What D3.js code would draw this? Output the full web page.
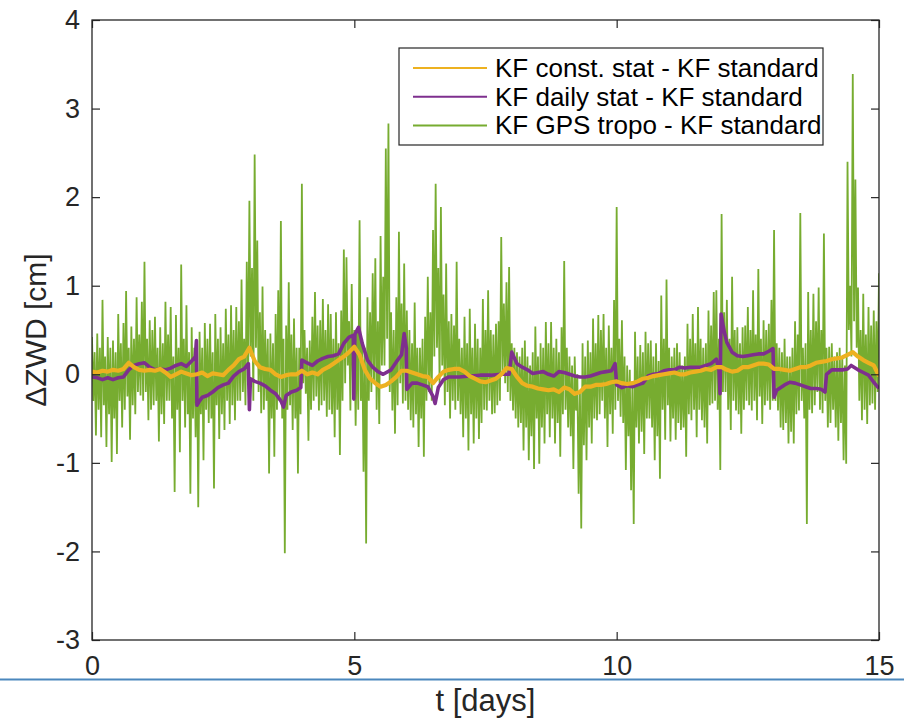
<!DOCTYPE html>
<html>
<head>
<meta charset="utf-8">
<script src="https://cdn.jsdelivr.net/npm/d3@7"></script>
<style>
  html, body { margin: 0; padding: 0; background: #ffffff; }
  svg { display: block; }
  text { font-family: "Liberation Sans", Arial, Helvetica, sans-serif; }
</style>
</head>
<body>
<svg id="chart" width="904" height="719"></svg>
<script>
// ---- data: ZWD differences [cm] against the standard Kalman filter ----
const xTicks = [0, 5, 10, 15];
const yTicks = [-3, -2, -1, 0, 1, 2, 3, 4];
const seriesNames = [
  "KF const. stat - KF standard",
  "KF daily stat - KF standard",
  "KF GPS tropo - KF standard"
];
const seriesColors = ["#EDB120", "#7E2F8E", "#77AC30"];

// GPS tropo difference, one value every 0.025 day (t = 0 ... 15), two rows per day
const greenStep = 0.025;
const greenValues = [
  0.42,-0.3, 0.25,-0.69, 0.46,-0.4, 0.3,-0.71, 0.84,-0.35, 0.2,-0.82, 0.42,-0.45, 0.3,-0.99, 0.38,-0.5, 0.25,-0.9,
  0.68,-0.3, 0.35,-0.6, 0.58,-0.4, 0.94,-0.25, 0.3,-0.74, 0.54,-0.35, 0.4,-0.45, 0.87,-0.2, 0.45,-0.24, 0.82,-0.3,
  1.27,-0.2, 0.4,-0.52, 0.61,-0.4, 0.5,-0.35, 0.65,-0.3, 0.3,-0.76, 0.53,-0.45, 0.35,-0.56, 0.82,-0.3, 0.45,-0.3,
  0.76,-0.5, 0.2,-1.33, 0.67,-0.4, 0.3,-0.88, 1.24,-0.3, 0.4,-0.6, 0.78,-0.45, 0.25,-1.35, 0.53,-0.5, 0.3,-0.71,
  0.35,-1.5, 0.48,-0.45, 0.3,-0.97, 0.58,-0.4, 0.4,-0.55, 0.57,-0.5, 0.25,-1.29, 0.68,-0.35, 0.4,-0.73, 0.53,-0.45,
  0.35,-0.63, 0.74,-0.3, 0.45,-0.56, 0.78,-0.35, 0.5,-0.52, 0.76,-0.3, 0.6,-0.3, 1.07,-0.2, 0.4,-0.35, 1.27,-0.1,
  1.96,0.2, 1.2,-0.3, 2.48,0.3, 1.51,-0.2, 0.7,-0.44, 0.99,-0.4, 0.5,-0.3, 0.4,-1.12, 0.46,-0.5, 0.35,-0.93,
  0.68,-0.4, 0.95,-0.3, 1.73,-0.5, 0.4,-2.02, 0.55,-0.4, 1.04,-0.35, 0.45,-0.63, 0.63,-0.5, 0.3,-1.12, 0.3,-0.45,
  2.15,-0.1, 0.5,-0.22, 0.3,-0.75, 0.38,-0.4, 0.65,-0.3, 0.93,-0.25, 0.55,-0.41, 0.61,-0.35, 0.85,-0.3, 0.5,-0.48,
  0.79,-0.4, 0.68,-0.45, 0.4,-0.71, 0.7,-0.4, 0.35,-0.91, 0.72,-0.3, 1.41,-0.1, 1.32,0.1, 0.6,-0.41, 1.02,-0.2,
  0.5,-0.58, 0.5,-0.4, 1.74,-0.3, 0.4,-1.1, 0.3,-1.91, 0.87,-0.3, 0.7,-0.2, 1.14,-0.1, 1.31,-0.4, 0.6,-0.56,
  1.56,0.1, 1.1,0.1, 2.55,0.4, 2.83,-0.2, 0.7,-0.41, 0.5,-0.67, 0.87,-0.35, 1.61,-0.1, 0.8,-0.33, 1.25,-0.3,
  0.72,-0.4, 0.5,-0.52, 0.35,-0.6, 0.81,-0.45, 0.3,-0.82, 0.3,-0.5, 0.4,-0.93, 0.65,-0.3, 1.1,-0.2, 0.7,-0.3,
  1.63,0.2, 2.15,0.3, 1.2,-0.1, 1.89,0.1, 0.9,-0.35, 1.25,-0.2, 0.6,-0.5, 0.68,-0.3, 0.55,-0.4, 1.27,-0.3,
  0.4,-0.45, 0.3,-0.71, 0.65,-0.5, 0.35,-0.86, 0.74,-0.45, 0.3,-0.78, 0.57,-0.5, 0.4,-0.73, 0.3,-0.55, 0.85,-0.4,
  0.5,-0.41, 0.95,-0.3, 0.5,-0.45, 0.45,-0.44, 0.57,-0.35, 0.6,-0.3, 1.55,0.0, 0.8,-0.1, 1.04,-0.2, 1.21,-0.3,
  0.35,-0.41, 0.3,-0.5, 0.25,-0.6, 0.2,-0.55, 0.3,-0.86, 0.38,-0.6, 0.2,-0.97, 0.1,-0.7, 0.25,-1.07, 0.54,-0.5,
  0.2,-1.01, 0.35,-0.6, 0.3,-0.78, 0.59,-0.45, 0.35,-0.71, 0.59,-0.5, 0.3,-0.78, 0.4,-0.55, 0.25,-0.93, 0.53,-0.45,
  1.28,-0.4, 0.3,-0.6, 0.2,-0.7, 0.1,-1.07, 0.2,-0.41, 0.0,-1.35, -0.2,-1.74, 0.35,-0.8, 0.2,-0.97, 0.38,-0.6,
  0.25,-0.78, 0.63,-0.5, 0.35,-0.52, 0.67,-0.45, 0.5,-0.3, 0.68,-0.5, 0.3,-0.82, 0.55,-0.45, 0.3,-0.67, 0.84,-0.4,
  1.89,-0.3, 0.4,-0.48, 0.61,-0.55, 0.2,-1.08, 0.1,-0.7, 0.05,-1.31, -0.1,-1.69, 0.48,-0.6, 0.2,-0.78, 0.33,-0.65,
  0.25,-0.9, 0.48,-0.5, 0.35,-0.5, 0.38,-0.6, 0.2,-0.97, 0.35,-0.7, 0.15,-1.18, 0.89,-0.4, 0.4,-0.74, 1.07,-0.35,
  0.3,-0.76, 0.2,-0.5, 0.3,-0.74, 0.35,-0.55, 0.25,-0.63, 0.1,-0.6, 0.2,-0.93, 0.57,-0.45, 0.4,-0.52, 0.68,-0.4,
  0.35,-0.71, 0.76,-0.4, 0.4,-0.52, 0.3,-0.6, 0.35,-0.78, 0.72,-0.35, 0.55,-0.33, 0.93,-0.3, 0.95,-0.4, 0.4,-1.08,
  1.81,-0.2, 0.7,-0.2, 0.84,-0.4, 0.4,-0.63, 1.1,-0.3, 0.5,-0.41, 0.53,-0.45, 0.35,-0.67, 0.53,-0.4, 0.55,-0.3,
  0.76,-0.35, 0.5,-0.41, 0.95,-0.3, 0.45,-0.52, 1.19,-0.25, 0.4,-0.56, 0.61,-0.35, 0.5,-0.3, 0.57,-0.4, 0.84,-0.3,
  1.63,-0.3, 0.35,-0.41, 0.3,-0.6, 0.25,-0.63, 0.4,-0.55, 0.2,-0.78, 0.2,-0.65, 0.3,-0.78, 0.6,-0.45, 0.45,-0.41,
  1.82,-0.3, 0.3,-0.5, 0.35,-1.69, 0.93,-0.4, 0.5,-0.44, 0.91,-0.35, 0.6,-0.2, 0.98,-0.4, 0.5,-0.44, 1.59,-0.3,
  0.3,-0.6, 0.31,-0.55, 0.35,-0.4, 0.2,-0.6, 0.25,-0.75, 0.3,-0.55, 0.2,-0.97, 0.1,-1.01, 2.4,0.5, 1.0,0.2,
  3.39,0.6, 2.2,0.3, 0.98,-0.3, 0.5,-0.52, 0.91,-0.4, 0.45,-0.56, 0.76,-0.35, 0.55,-0.33, 0.72,-0.4, 0.6,-0.2,
  1.14
];

// constant-statistics difference, one value every 0.1 day
const orangeStep = 0.1;
const orangeValues = [
  0.03, 0.02, 0.04, 0.03, 0.05, 0.04, 0.06, 0.13, 0.08, 0.05,
  0.04, 0.05, 0.04, 0.06, 0.02, -0.03, 0.0, 0.03, 0.01, -0.01,
  0.0, 0.02, -0.02, 0.01, 0.0, -0.01, 0.05, 0.1, 0.17, 0.2,
  0.3, 0.15, 0.08, 0.06, 0.05, 0.0, -0.03, -0.01, 0.0, 0.0,
  0.04, 0.0, 0.02, 0.0, 0.05, 0.08, 0.12, 0.16, 0.2, 0.25,
  0.31, 0.22, 0.05, -0.05, -0.1, -0.14, -0.12, -0.08, -0.03, 0.04,
  0.04, 0.02, 0.0, -0.02, -0.03, -0.1, -0.03, 0.03, 0.05, 0.06,
  0.06, 0.03, -0.02, -0.05, -0.08, -0.09, -0.07, -0.05, 0.0, 0.07,
  0.06, -0.03, -0.1, -0.13, -0.14, -0.16, -0.17, -0.18, -0.17, -0.2,
  -0.15, -0.17, -0.22, -0.2, -0.14, -0.14, -0.12, -0.12, -0.11, -0.09,
  -0.08, -0.1, -0.11, -0.1, -0.08, -0.05, -0.04, -0.02, -0.01, 0.0,
  0.01, 0.02, 0.0, 0.0, 0.02, 0.03, 0.04, 0.06, 0.05, 0.08,
  0.08, 0.05, 0.03, 0.04, 0.08, 0.08, 0.1, 0.12, 0.12, 0.11,
  0.06, 0.06, 0.05, 0.04, 0.06, 0.08, 0.08, 0.1, 0.13, 0.14,
  0.15, 0.17, 0.18, 0.19, 0.22, 0.25, 0.2, 0.16, 0.13, 0.1,
  -0.02
];

// daily-statistics difference: irregular epochs (resets at day boundaries)
const purpleDays = [
  0.0, 0.1, 0.2, 0.3, 0.4, 0.5, 0.6, 0.7, 0.8, 0.9,
  1.0, 1.1, 1.2, 1.3, 1.4, 1.5, 1.6, 1.7, 1.8, 1.9, 1.97, 1.99,
  2.0, 2.05, 2.1, 2.2, 2.3, 2.4, 2.5, 2.6, 2.7, 2.8, 2.9, 2.98,
  3.0, 3.02, 3.1, 3.2, 3.3, 3.4, 3.5, 3.6, 3.65, 3.7, 3.8, 3.9, 3.98,
  4.0, 4.1, 4.2, 4.3, 4.4, 4.5, 4.6, 4.7, 4.8, 4.9, 4.98, 4.99,
  5.01, 5.08, 5.15, 5.25, 5.35, 5.45, 5.55, 5.7, 5.8, 5.9, 5.95, 5.99,
  6.0, 6.1, 6.2, 6.3, 6.4, 6.5, 6.54, 6.6, 6.7, 6.8, 6.9,
  7.0, 7.2, 7.4, 7.6, 7.8, 7.95,
  8.0, 8.1, 8.2, 8.3, 8.4, 8.5, 8.6, 8.7, 8.8, 8.9,
  9.0, 9.1, 9.2, 9.3, 9.4, 9.5, 9.6, 9.7, 9.8, 9.9, 9.97,
  10.0, 10.1, 10.2, 10.3, 10.4, 10.5, 10.6, 10.7, 10.8, 10.9,
  11.0, 11.1, 11.2, 11.3, 11.4, 11.5, 11.6, 11.7, 11.8, 11.9, 11.95, 11.97,
  11.99, 12.05, 12.1, 12.2, 12.3, 12.4, 12.5, 12.6, 12.7, 12.8, 12.9, 12.98,
  13.0, 13.05, 13.2, 13.3, 13.4, 13.5, 13.6, 13.7, 13.8, 13.9, 13.97,
  14.0, 14.1, 14.2, 14.3, 14.4, 14.47, 14.6, 14.7, 14.8, 14.9, 15.0
];
const purpleValues = [
  -0.03, -0.04, -0.06, -0.04, -0.06, -0.04, -0.03, 0.05, 0.1, 0.12,
  0.13, 0.08, 0.05, 0.06, 0.05, 0.07, 0.1, 0.12, 0.09, 0.15, 0.2, 0.38,
  -0.35, -0.3, -0.26, -0.24, -0.2, -0.15, -0.12, -0.1, -0.02, 0.03, 0.06, 0.12,
  -0.4, -0.05, -0.08, -0.1, -0.13, -0.18, -0.22, -0.3, -0.37, -0.24, -0.2, -0.18, -0.15,
  0.16, 0.13, 0.1, 0.15, 0.18, 0.2, 0.21, 0.23, 0.35, 0.42, 0.44, -0.28,
  0.45, 0.53, 0.35, 0.16, 0.08, 0.03, 0.0, 0.05, 0.14, 0.22, 0.46, 0.3,
  -0.17, -0.1, -0.1, -0.12, -0.14, -0.25, -0.33, -0.15, -0.06, -0.03, -0.03,
  -0.03, -0.02, -0.01, -0.01, 0.0, 0.0,
  0.25, 0.12, 0.08, 0.05, 0.01, 0.02, 0.03, 0.0, -0.02, 0.03,
  0.02, 0.0, -0.02, -0.03, -0.03, -0.02, 0.0, 0.02, 0.03, 0.04, 0.12,
  -0.12, -0.15, -0.13, -0.14, -0.12, -0.1, -0.02, 0.0, 0.01, 0.04,
  0.05, 0.05, 0.08, 0.07, 0.08, 0.08, 0.08, 0.1, 0.12, 0.17, 0.05, -0.22,
  0.68, 0.48, 0.36, 0.25, 0.21, 0.2, 0.21, 0.22, 0.23, 0.23, 0.26, 0.29,
  -0.26, -0.18, -0.12, -0.09, -0.1, -0.12, -0.14, -0.16, -0.16, -0.17, -0.2,
  0.0, 0.05, 0.05, 0.05, 0.06, 0.1, 0.05, 0.02, -0.01, -0.09, -0.16
];

// ---- layout ----
const svg = d3.select("#chart");
const W = 904, H = 719;
const plot = { left: 92, right: 879, top: 20, bottom: 640 };
const axisColor = "#262626";
const font = '"Liberation Sans", Arial, Helvetica, sans-serif';
const tickFmt = d => String(d); // plain hyphen-minus for negatives

const x = d3.scaleLinear().domain([0, 15]).range([plot.left, plot.right]);
const y = d3.scaleLinear().domain([-3, 4]).range([plot.bottom, plot.top]);

svg.append("rect").attr("width", W).attr("height", H).attr("fill", "#ffffff");

// clip for the data lines
svg.append("defs").append("clipPath").attr("id", "plotClip")
  .append("rect")
  .attr("x", plot.left).attr("y", plot.top)
  .attr("width", plot.right - plot.left).attr("height", plot.bottom - plot.top);

const line = d3.line().x(d => x(d[0])).y(d => y(d[1]));

const greenData = greenValues.map((v, i) => [i * greenStep, v]);
const orangeData = orangeValues.map((v, i) => [i * orangeStep, v]);
const purpleData = purpleDays.map((t, i) => [t, purpleValues[i]]);

const lines = svg.append("g").attr("clip-path", "url(#plotClip)");
lines.append("path").datum(greenData)
  .attr("d", line).attr("fill", "none")
  .attr("stroke", seriesColors[2]).attr("stroke-width", 1.8)
  .attr("stroke-linejoin", "miter").attr("stroke-miterlimit", 2);
lines.append("path").datum(purpleData)
  .attr("d", line).attr("fill", "none")
  .attr("stroke", seriesColors[1]).attr("stroke-width", 3.6)
  .attr("stroke-linejoin", "round");
lines.append("path").datum(orangeData)
  .attr("d", line).attr("fill", "none")
  .attr("stroke", seriesColors[0]).attr("stroke-width", 4.2)
  .attr("stroke-linejoin", "round");

// ---- axes (box with ticks inside on all four sides) ----
function styleAxis(g, showLabels) {
  g.select(".domain").remove();
  g.selectAll(".tick line").attr("stroke", axisColor).attr("stroke-width", 1.2);
  g.selectAll(".tick text")
    .attr("fill", axisColor)
    .style("font-family", font)
    .style("font-size", "27px")
    .attr("opacity", showLabels ? 1 : 0);
}

svg.append("g")
  .attr("transform", `translate(0,${plot.bottom})`)
  .call(d3.axisBottom(x).tickValues(xTicks).tickSize(-8).tickPadding(16).tickFormat(tickFmt))
  .call(g => styleAxis(g, true));

svg.append("g")
  .attr("transform", `translate(0,${plot.top})`)
  .call(d3.axisTop(x).tickValues(xTicks).tickSize(-8).tickFormat(""))
  .call(g => styleAxis(g, false));

svg.append("g")
  .attr("transform", `translate(${plot.left},0)`)
  .call(d3.axisLeft(y).tickValues(yTicks).tickSize(-8).tickPadding(12).tickFormat(tickFmt))
  .call(g => styleAxis(g, true));

svg.append("g")
  .attr("transform", `translate(${plot.right},0)`)
  .call(d3.axisRight(y).tickValues(yTicks).tickSize(-8).tickFormat(""))
  .call(g => styleAxis(g, false));

svg.append("rect")
  .attr("x", plot.left).attr("y", plot.top)
  .attr("width", plot.right - plot.left).attr("height", plot.bottom - plot.top)
  .attr("fill", "none").attr("stroke", axisColor).attr("stroke-width", 1.3);

// ---- axis labels ----
svg.append("text")
  .attr("transform", `translate(46,${(plot.top + plot.bottom) / 2}) rotate(-90)`)
  .attr("text-anchor", "middle")
  .attr("fill", axisColor)
  .style("font-size", "30px")
  .text("\u0394ZWD [cm]");

// thin rule under the tick labels
svg.append("line")
  .attr("x1", 0).attr("x2", W).attr("y1", 679.5).attr("y2", 679.5)
  .attr("stroke", "#4b87bd").attr("stroke-width", 2);

svg.append("text")
  .attr("x", (plot.left + plot.right) / 2).attr("y", 711)
  .attr("text-anchor", "middle")
  .attr("fill", axisColor)
  .style("font-size", "31px")
  .text("t [days]");

// ---- legend ----
const legend = svg.append("g");
legend.append("rect")
  .attr("x", 399).attr("y", 48).attr("width", 424).attr("height", 97)
  .attr("fill", "#ffffff").attr("stroke", axisColor).attr("stroke-width", 1.2);

const rowY = d3.scalePoint().domain(seriesNames).range([68, 125.5]);
seriesNames.forEach((name, i) => {
  const cy = rowY(name);
  legend.append("line")
    .attr("x1", 413).attr("x2", 487).attr("y1", cy).attr("y2", cy)
    .attr("stroke", seriesColors[i]).attr("stroke-width", 2);
  legend.append("text")
    .attr("x", 495).attr("y", cy)
    .attr("dy", "0.34em")
    .attr("fill", "#000000")
    .style("font-size", "26px")
    .text(name);
});
</script>
</body>
</html>
